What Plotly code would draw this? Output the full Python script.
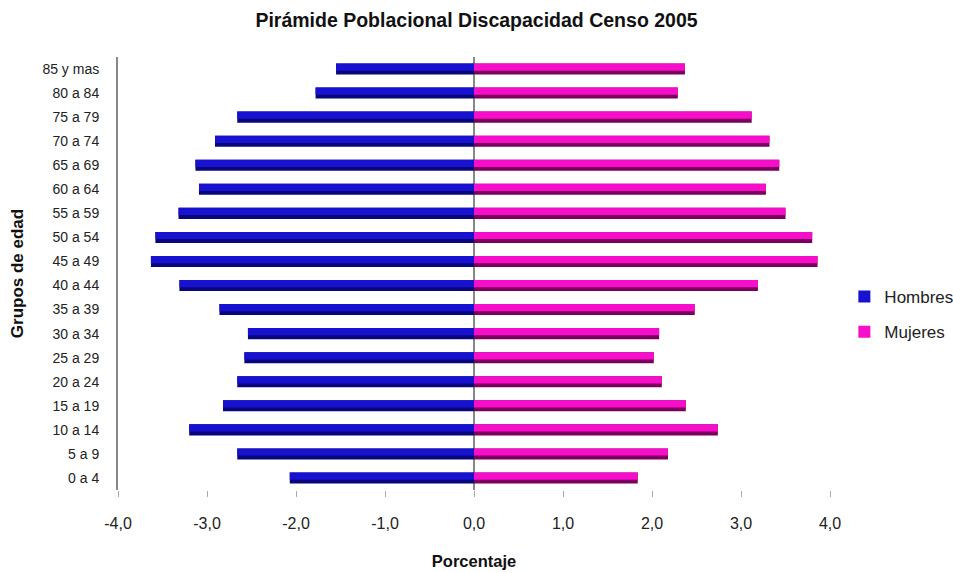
import plotly.graph_objects as go

grupos = ["0 a 4", "5 a 9", "10 a 14", "15 a 19", "20 a 24", "25 a 29", "30 a 34",
          "35 a 39", "40 a 44", "45 a 49", "50 a 54", "55 a 59", "60 a 64",
          "65 a 69", "70 a 74", "75 a 79", "80 a 84", "85 y mas"]
hombres = [-2.07, -2.66, -3.20, -2.82, -2.66, -2.58, -2.54, -2.86, -3.31,
           -3.63, -3.58, -3.32, -3.09, -3.13, -2.91, -2.66, -1.78, -1.55]
mujeres = [1.84, 2.18, 2.74, 2.38, 2.11, 2.02, 2.08, 2.48, 3.19,
           3.86, 3.80, 3.50, 3.28, 3.43, 3.32, 3.12, 2.29, 2.37]
ticks_x = [-4, -3, -2, -1, 0, 1, 2, 3, 4]
etiquetas_x = ["-4,0", "-3,0", "-2,0", "-1,0", "0,0", "1,0", "2,0", "3,0", "4,0"]

FONT = "Liberation Sans, Arial, sans-serif"

fig = go.Figure()

# cada serie: barra oscura de fondo + barra clara encima (efecto 3D de Excel)
series = [("Hombres", hombres, "#07077A", "#1812D0"),
          ("Mujeres", mujeres, "#7A005C", "#F70ECA")]
for nombre, valores, oscuro, claro in series:
    fig.add_trace(go.Bar(
        y=grupos, x=valores, orientation="h", name=nombre,
        marker=dict(color=oscuro, line=dict(width=0)),
        width=0.46, offset=-0.23, showlegend=False, hoverinfo="skip",
    ))
    fig.add_trace(go.Bar(
        y=grupos, x=valores, orientation="h", name=nombre,
        marker=dict(color=claro, line=dict(width=0)),
        width=0.30, offset=-0.07, legendgroup=nombre,
    ))

fig.update_layout(
    width=953, height=573,
    barmode="overlay",
    plot_bgcolor="white", paper_bgcolor="white",
    margin=dict(l=118, r=123, t=57, b=83, autoexpand=False),
    font=dict(family=FONT, color="#222222", size=13),
    title=dict(text="<b>Pirámide Poblacional Discapacidad Censo 2005</b>",
               x=0.5, xanchor="center", y=0.965, yanchor="middle",
               font=dict(size=19.5, color="#111111")),
    xaxis=dict(range=[-4, 4], tickvals=ticks_x, ticktext=etiquetas_x,
               showgrid=False, showline=False, zeroline=True,
               zerolinecolor="#888888", zerolinewidth=2,
               ticks="outside", ticklen=6, tickcolor="#aaaaaa",
               ticklabelstandoff=13, tickfont=dict(size=16),
               automargin=False,
               title=dict(text="<b>Porcentaje</b>", standoff=24,
                          font=dict(size=16.5, color="#111111"))),
    yaxis=dict(categoryorder="array", categoryarray=grupos,
               range=[-0.5, 17.5], showgrid=False, showline=True,
               linecolor="#888888", linewidth=2, ticks="",
               ticklabelstandoff=14, tickfont=dict(size=14),
               automargin=False,
               title=dict(text="<b>Grupos de edad</b>", standoff=14,
                          font=dict(size=17, color="#111111"))),
    legend=dict(xref="container", yref="container",
                x=0.886, xanchor="left", y=0.513, yanchor="top",
                traceorder="grouped", tracegroupgap=10,
                font=dict(size=17, color="#222222")),
)

# sin el margen por defecto del <body>
fig.write_html("out.html", config={"displayModeBar": False},
               post_script="document.body.style.margin='0';")
